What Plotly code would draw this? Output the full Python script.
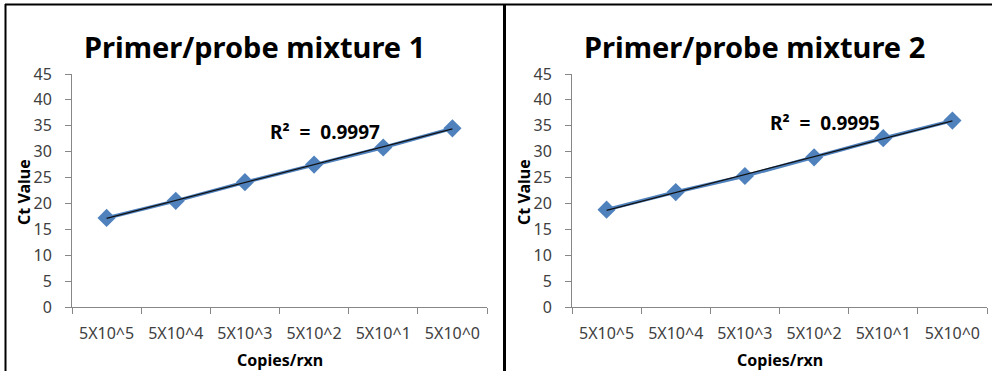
import numpy as np
import plotly.graph_objects as go

W, H = 992, 371

categories = ["5X10^5", "5X10^4", "5X10^3", "5X10^2", "5X10^1", "5X10^0"]
ct_mix1 = [17.2, 20.5, 24.1, 27.5, 30.8, 34.5]
ct_mix2 = [18.8, 22.2, 25.3, 28.9, 32.6, 36.0]
titles = ["Primer/probe mixture 1", "Primer/probe mixture 2"]
r2_labels = ["R²\u00a0\u00a0=\u00a0\u00a00.9997", "R²\u00a0\u00a0=\u00a0\u00a00.9995"]
y_ticks = list(range(0, 46, 5))

FONT = "Noto Sans"
BLUE = "#4F81BD"
AXIS = "#878787"
TXT = "#404040"

def px(x):
    return x / W

def py(y):
    return 1 - y / H

fig = go.Figure()

panels = [
    dict(x0=72, x1=487, data=ct_mix1, title=titles[0], r2=r2_labels[0], tx=254, rx=325, ry=132),
    dict(x0=572, x1=987, data=ct_mix2, title=titles[1], r2=r2_labels[1], tx=754, rx=825, ry=123),
]
y_top, y_bot = 74, 307

annotations = []
for i, p in enumerate(panels):
    xa = "x" if i == 0 else "x2"
    ya = "y" if i == 0 else "y2"
    idx = np.arange(1, len(categories) + 1)
    slope, intercept = np.polyfit(idx, p["data"], 1)
    fit = slope * idx + intercept
    fig.add_trace(go.Scatter(
        x=categories, y=p["data"], mode="lines+markers",
        line=dict(color=BLUE, width=3.5),
        marker=dict(symbol="diamond", size=14, color=BLUE),
        xaxis=xa, yaxis=ya, showlegend=False, hoverinfo="skip"))
    fig.add_trace(go.Scatter(
        x=categories, y=fit, mode="lines",
        line=dict(color="#111111", width=1.3),
        xaxis=xa, yaxis=ya, showlegend=False, hoverinfo="skip"))

    axis_common = dict(showline=True, linecolor=AXIS, linewidth=1, ticks="outside",
                       ticklen=6, tickcolor=AXIS, showgrid=False, zeroline=False,
                       automargin=False,
                       tickfont=dict(family=FONT, size=16, color=TXT))
    fig.layout["xaxis" + ("" if i == 0 else "2")] = dict(
        domain=[px(p["x0"]), px(p["x1"])], anchor=ya, type="category",
        tickson="boundaries", range=[-0.5, 5.5], mirror=False,
        ticklabelstandoff=12, **axis_common)
    fig.layout["yaxis" + ("" if i == 0 else "2")] = dict(
        domain=[py(y_bot), py(y_top)], anchor=xa, range=[0, 45],
        tickvals=y_ticks, ticklabelstandoff=10, **axis_common)

    annotations += [
        dict(text="<b>" + p["title"] + "</b>", x=px(p["tx"]), y=py(47), xref="paper", yref="paper",
             showarrow=False, font=dict(family=FONT, size=29, color="#000000"),
             xanchor="center", yanchor="middle"),
        dict(text="<b>" + p["r2"] + "</b>", x=px(p["rx"]), y=py(p["ry"]), xref="paper", yref="paper",
             showarrow=False, font=dict(family=FONT, size=19, color="#000000"),
             xanchor="center", yanchor="middle"),
        dict(text="<b>Ct Value</b>", x=px(p["x0"] - 48), y=py(192), xref="paper", yref="paper",
             showarrow=False, textangle=-90, font=dict(family=FONT, size=16, color="#000000"),
             xanchor="center", yanchor="middle"),
        dict(text="<b>Copies/rxn</b>", x=px((p["x0"] + p["x1"]) / 2), y=py(360), xref="paper", yref="paper",
             showarrow=False, font=dict(family=FONT, size=16, color="#000000"),
             xanchor="center", yanchor="middle"),
    ]

shapes = [
    dict(type="line", xref="paper", yref="paper", x0=px(5), x1=1, y0=py(4.5), y1=py(4.5),
         line=dict(color="#000000", width=2)),
    dict(type="line", xref="paper", yref="paper", x0=px(5.5), x1=px(5.5), y0=py(4), y1=0,
         line=dict(color="#000000", width=2)),
    dict(type="line", xref="paper", yref="paper", x0=px(504.5), x1=px(504.5), y0=py(4), y1=0,
         line=dict(color="#000000", width=3)),
]

fig.update_layout(template="none", width=W, height=H, margin=dict(l=0, r=0, t=0, b=0, pad=0),
                  paper_bgcolor="white", plot_bgcolor="white",
                  annotations=annotations, shapes=shapes)

fig.write_html("out.html", config={"displayModeBar": False},
               post_script="document.body.style.margin='0';document.body.style.overflow='hidden';")
